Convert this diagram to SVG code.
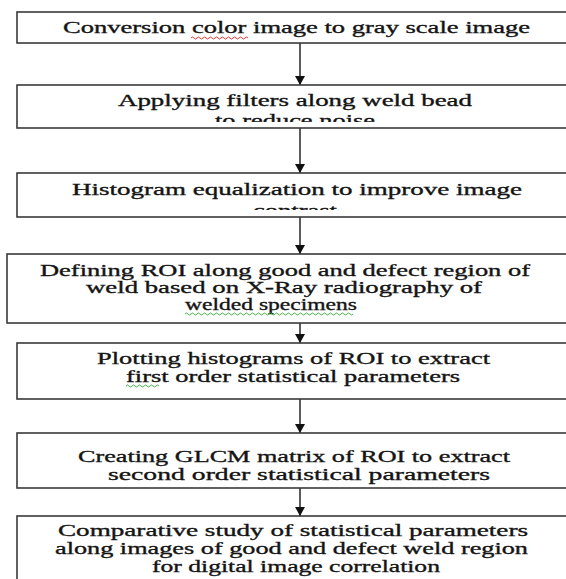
<svg xmlns="http://www.w3.org/2000/svg" width="566" height="579" viewBox="0 0 566 579">
<defs>
<marker id="ah" markerWidth="9" markerHeight="10" refX="9" refY="5" orient="auto" markerUnits="userSpaceOnUse" viewBox="0 0 9 10">
<path d="M0,0 L9,5 L0,10 Z" fill="#111"/>
</marker>
<clipPath id="c2"><rect x="0" y="86" width="566" height="36"/></clipPath>
<clipPath id="c3"><rect x="0" y="174" width="566" height="36"/></clipPath>
</defs>
<style>
.box{fill:#fff;stroke:#3a3a3a;stroke-width:1.6}
.t{font-family:"Liberation Serif","Times New Roman",serif;font-size:17.5px;fill:#141414;stroke:#141414;stroke-width:0.35}
.c{stroke:#333;stroke-width:1.6;fill:none}
.sq{fill:none;stroke-width:0.9}
</style>
<rect width="566" height="579" fill="#fff"/>
<g id="connectors">
<line class="c" x1="300" y1="43" x2="300" y2="85" marker-end="url(#ah)"/>
<line class="c" x1="300" y1="128" x2="300" y2="173" marker-end="url(#ah)"/>
<line class="c" x1="300" y1="217" x2="300" y2="254" marker-end="url(#ah)"/>
<line class="c" x1="300" y1="323" x2="300" y2="343" marker-end="url(#ah)"/>
<line class="c" x1="300" y1="399" x2="300" y2="433" marker-end="url(#ah)"/>
<line class="c" x1="300" y1="488" x2="300" y2="516" marker-end="url(#ah)"/>
</g>
<g id="node1">
<rect class="box" x="17" y="12" width="600" height="31"/>
<text class="t" x="63" y="33" textLength="467" lengthAdjust="spacingAndGlyphs">Conversion color image to gray scale image</text>
<path class="sq" stroke="#d22" d="M191,38 q1.5,-2 3,0 t3,0 t3,0 t3,0 t3,0 t3,0 t3,0 t3,0 t3,0 t3,0 t3,0 t3,0 t3,0 t3,0 t3,0 t3,0 t3,0 t3,0 t3,0"/>
</g>
<g id="node2">
<rect class="box" x="17" y="85" width="600" height="43"/>
<text class="t" x="118" y="106" textLength="354" lengthAdjust="spacingAndGlyphs">Applying filters along weld bead</text>
<text class="t" x="215" y="126" textLength="160" lengthAdjust="spacingAndGlyphs" clip-path="url(#c2)">to reduce noise</text>
</g>
<g id="node3">
<rect class="box" x="17" y="173" width="600" height="44"/>
<text class="t" x="72" y="195" textLength="450" lengthAdjust="spacingAndGlyphs">Histogram equalization to improve image</text>
<text class="t" x="253" y="216" textLength="84" lengthAdjust="spacingAndGlyphs" clip-path="url(#c3)">contrast</text>
</g>
<g id="node4">
<rect class="box" x="7" y="254" width="600" height="69"/>
<text class="t" x="40" y="276" textLength="490" lengthAdjust="spacingAndGlyphs">Defining ROI along good and defect region of</text>
<text class="t" x="86" y="293" textLength="396" lengthAdjust="spacingAndGlyphs">weld based on X-Ray radiography of</text>
<text class="t" x="185" y="310" textLength="172" lengthAdjust="spacingAndGlyphs">welded  specimens</text>
<path class="sq" stroke="#3a3" d="M185,314 q1.5,-2 3,0 t3,0 t3,0 t3,0 t3,0 t3,0 t3,0 t3,0 t3,0 t3,0 t3,0 t3,0 t3,0 t3,0 t3,0 t3,0 t3,0 t3,0 t3,0 t3,0 t3,0 t3,0 t3,0 t3,0 t3,0 t3,0 t3,0 t3,0 t3,0 t3,0 t3,0 t3,0 t3,0 t3,0 t3,0 t3,0 t3,0 t3,0 t3,0 t3,0 t3,0 t3,0 t3,0 t3,0 t3,0 t3,0 t3,0 t3,0 t3,0 t3,0 t3,0 t3,0 t3,0 t3,0 t3,0 t3,0"/>
</g>
<g id="node5">
<rect class="box" x="17" y="343" width="600" height="56"/>
<text class="t" x="97" y="364" textLength="393" lengthAdjust="spacingAndGlyphs">Plotting histograms of ROI to extract</text>
<text class="t" x="126" y="382" textLength="334" lengthAdjust="spacingAndGlyphs">first order statistical parameters</text>
<path class="sq" stroke="#3a3" d="M126,386 q1.5,-2 3,0 t3,0 t3,0 t3,0 t3,0 t3,0 t3,0 t3,0 t3,0 t3,0 t3,0"/>
</g>
<g id="node6">
<rect class="box" x="17" y="433" width="600" height="55"/>
<text class="t" x="78" y="462" textLength="432" lengthAdjust="spacingAndGlyphs">Creating GLCM matrix of ROI to extract</text>
<text class="t" x="108" y="480" textLength="382" lengthAdjust="spacingAndGlyphs">second order statistical parameters</text>
</g>
<g id="node7">
<rect class="box" x="17" y="516" width="600" height="80"/>
<text class="t" x="58" y="536" textLength="470" lengthAdjust="spacingAndGlyphs">Comparative study of statistical parameters</text>
<text class="t" x="55" y="554" textLength="473" lengthAdjust="spacingAndGlyphs">along images of good and defect weld region</text>
<text class="t" x="152" y="572" textLength="288" lengthAdjust="spacingAndGlyphs">for digital image correlation</text>
</g>
</svg>
